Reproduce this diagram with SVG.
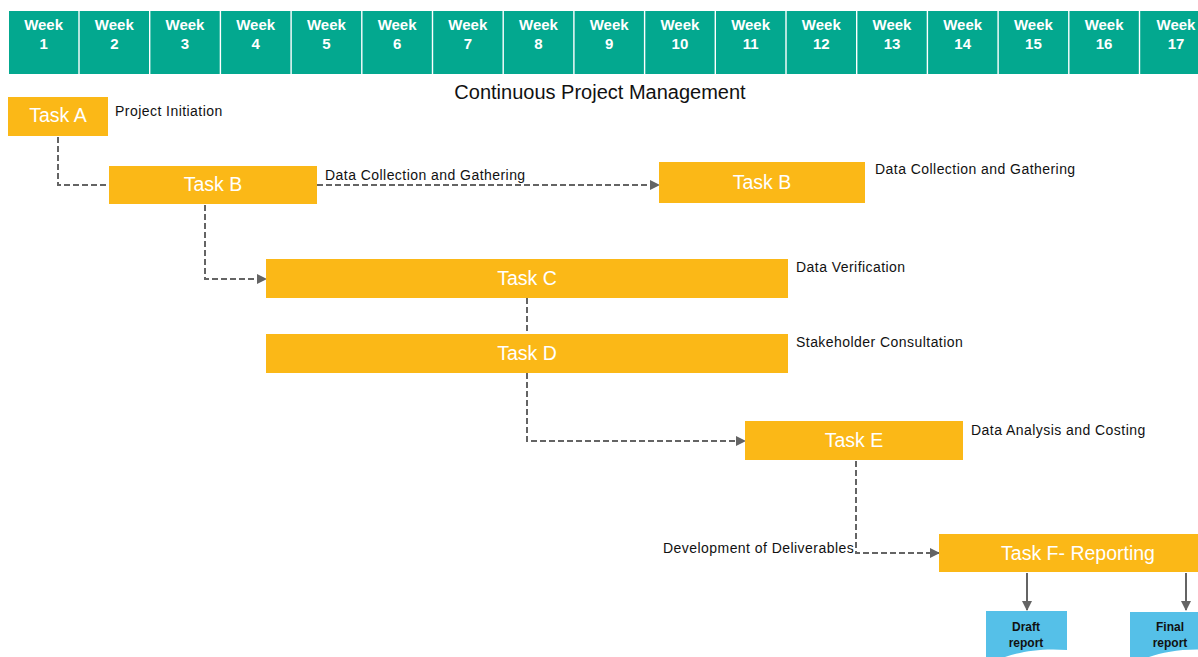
<svg xmlns="http://www.w3.org/2000/svg" width="1198" height="657" viewBox="0 0 1198 657">
  <style>
    .wk { fill: #03A88F; }
    .wkt { font-family: "Liberation Sans", Arial, sans-serif; font-weight: bold; font-size: 15px; fill: #ffffff; text-anchor: middle; }
    .task { fill: #FBB817; }
    .tt { font-family: "Liberation Sans", Arial, sans-serif; font-size: 19.5px; fill: #ffffff; text-anchor: middle; }
    .lbl { font-family: "Liberation Sans", Arial, sans-serif; font-size: 14px; letter-spacing: 0.45px; fill: #111111; }
    .title { font-family: "Liberation Sans", Arial, sans-serif; font-size: 20px; fill: #111111; text-anchor: middle; }
    .dash { fill: none; stroke: #646464; stroke-width: 2; stroke-dasharray: 6 3; }
    .solid { fill: none; stroke: #646464; stroke-width: 2; }
    .doc { fill: #55C0E8; }
    .dt { font-family: "Liberation Sans", Arial, sans-serif; font-weight: bold; font-size: 12px; fill: #111111; text-anchor: middle; }
  </style>
  <defs>
    <marker id="arr" viewBox="0 0 10 10" refX="9" refY="5" markerWidth="5" markerHeight="5" orient="auto" markerUnits="strokeWidth">
      <path d="M0,0 L10,5 L0,10 z" fill="#646464"/>
    </marker>
  </defs>
  <rect width="1198" height="657" fill="#ffffff"/>

  <!-- week header -->
  <g id="weeks">
    <rect class="wk" x="9" y="11" width="69.3" height="63"/>
    <text class="wkt" x="43.6" y="30">Week</text><text class="wkt" x="43.6" y="49">1</text>
    <rect class="wk" x="79.7" y="11" width="69.3" height="63"/>
    <text class="wkt" x="114.3" y="30">Week</text><text class="wkt" x="114.3" y="49">2</text>
    <rect class="wk" x="150.4" y="11" width="69.3" height="63"/>
    <text class="wkt" x="185" y="30">Week</text><text class="wkt" x="185" y="49">3</text>
    <rect class="wk" x="221.1" y="11" width="69.3" height="63"/>
    <text class="wkt" x="255.7" y="30">Week</text><text class="wkt" x="255.7" y="49">4</text>
    <rect class="wk" x="291.8" y="11" width="69.3" height="63"/>
    <text class="wkt" x="326.4" y="30">Week</text><text class="wkt" x="326.4" y="49">5</text>
    <rect class="wk" x="362.5" y="11" width="69.3" height="63"/>
    <text class="wkt" x="397.1" y="30">Week</text><text class="wkt" x="397.1" y="49">6</text>
    <rect class="wk" x="433.2" y="11" width="69.3" height="63"/>
    <text class="wkt" x="467.8" y="30">Week</text><text class="wkt" x="467.8" y="49">7</text>
    <rect class="wk" x="503.9" y="11" width="69.3" height="63"/>
    <text class="wkt" x="538.5" y="30">Week</text><text class="wkt" x="538.5" y="49">8</text>
    <rect class="wk" x="574.6" y="11" width="69.3" height="63"/>
    <text class="wkt" x="609.2" y="30">Week</text><text class="wkt" x="609.2" y="49">9</text>
    <rect class="wk" x="645.3" y="11" width="69.3" height="63"/>
    <text class="wkt" x="679.9" y="30">Week</text><text class="wkt" x="679.9" y="49">10</text>
    <rect class="wk" x="716" y="11" width="69.3" height="63"/>
    <text class="wkt" x="750.6" y="30">Week</text><text class="wkt" x="750.6" y="49">11</text>
    <rect class="wk" x="786.7" y="11" width="69.3" height="63"/>
    <text class="wkt" x="821.3" y="30">Week</text><text class="wkt" x="821.3" y="49">12</text>
    <rect class="wk" x="857.4" y="11" width="69.3" height="63"/>
    <text class="wkt" x="892" y="30">Week</text><text class="wkt" x="892" y="49">13</text>
    <rect class="wk" x="928.1" y="11" width="69.3" height="63"/>
    <text class="wkt" x="962.7" y="30">Week</text><text class="wkt" x="962.7" y="49">14</text>
    <rect class="wk" x="998.8" y="11" width="69.3" height="63"/>
    <text class="wkt" x="1033.4" y="30">Week</text><text class="wkt" x="1033.4" y="49">15</text>
    <rect class="wk" x="1069.5" y="11" width="69.3" height="63"/>
    <text class="wkt" x="1104.1" y="30">Week</text><text class="wkt" x="1104.1" y="49">16</text>
    <rect class="wk" x="1140.2" y="11" width="69.3" height="63"/>
    <text class="wkt" x="1176" y="30">Week</text><text class="wkt" x="1176" y="49">17</text>
  </g>

  <text class="title" x="600" y="99">Continuous Project Management</text>

  <!-- connectors -->
  <g id="connectors">
    <path class="dash" d="M58,137 V185 H109"/>
    <path class="dash" d="M317,185 H659" marker-end="url(#arr)"/>
    <path class="dash" d="M205,205 V279 H266" marker-end="url(#arr)"/>
    <path class="dash" d="M527,298 V334"/>
    <path class="dash" d="M527,373 V441 H745" marker-end="url(#arr)"/>
    <path class="dash" d="M856,461 V553 H939" marker-end="url(#arr)"/>
    <path class="solid" d="M1027,573 V610" marker-end="url(#arr)"/>
    <path class="solid" d="M1186,573 V610" marker-end="url(#arr)"/>
  </g>

  <g id="taskA">
    <rect class="task" x="8" y="97" width="100" height="39"/>
    <text class="tt" x="58" y="122">Task A</text>
    <text class="lbl" x="115" y="116">Project Initiation</text>
  </g>
  <g id="taskB">
    <rect class="task" x="109" y="166" width="208" height="38"/>
    <text class="tt" x="213" y="191">Task B</text>
    <text class="lbl" x="325" y="180">Data Collection and Gathering</text>
  </g>
  <g id="taskB2">
    <rect class="task" x="659" y="162" width="206" height="41"/>
    <text class="tt" x="762" y="189">Task B</text>
    <text class="lbl" x="875" y="174">Data Collection and Gathering</text>
  </g>
  <g id="taskC">
    <rect class="task" x="266" y="259" width="522" height="39"/>
    <text class="tt" x="527" y="285">Task C</text>
    <text class="lbl" x="796" y="272">Data Verification</text>
  </g>
  <g id="taskD">
    <rect class="task" x="266" y="334" width="522" height="39"/>
    <text class="tt" x="527" y="360">Task D</text>
    <text class="lbl" x="796" y="347">Stakeholder Consultation</text>
  </g>
  <g id="taskE">
    <rect class="task" x="745" y="421" width="218" height="39"/>
    <text class="tt" x="854" y="447">Task E</text>
    <text class="lbl" x="971" y="435">Data Analysis and Costing</text>
  </g>
  <g id="taskF">
    <rect class="task" x="939" y="534" width="265" height="38"/>
    <text class="tt" x="1078" y="560">Task F- Reporting</text>
    <text class="lbl" x="663" y="553">Development of Deliverables</text>
  </g>

  <g id="draftReport">
    <path class="doc" d="M986,611 H1067 V650 C1040,648 1020,652 1005,657 L986,657 Z"/>
    <text class="dt" x="1026" y="631">Draft</text>
    <text class="dt" x="1026" y="647">report</text>
  </g>
  <g id="finalReport">
    <path class="doc" d="M1130,612 H1211 V650 C1184,648 1164,652 1149,657 L1130,657 Z"/>
    <text class="dt" x="1170" y="631">Final</text>
    <text class="dt" x="1170" y="647">report</text>
  </g>
</svg>
